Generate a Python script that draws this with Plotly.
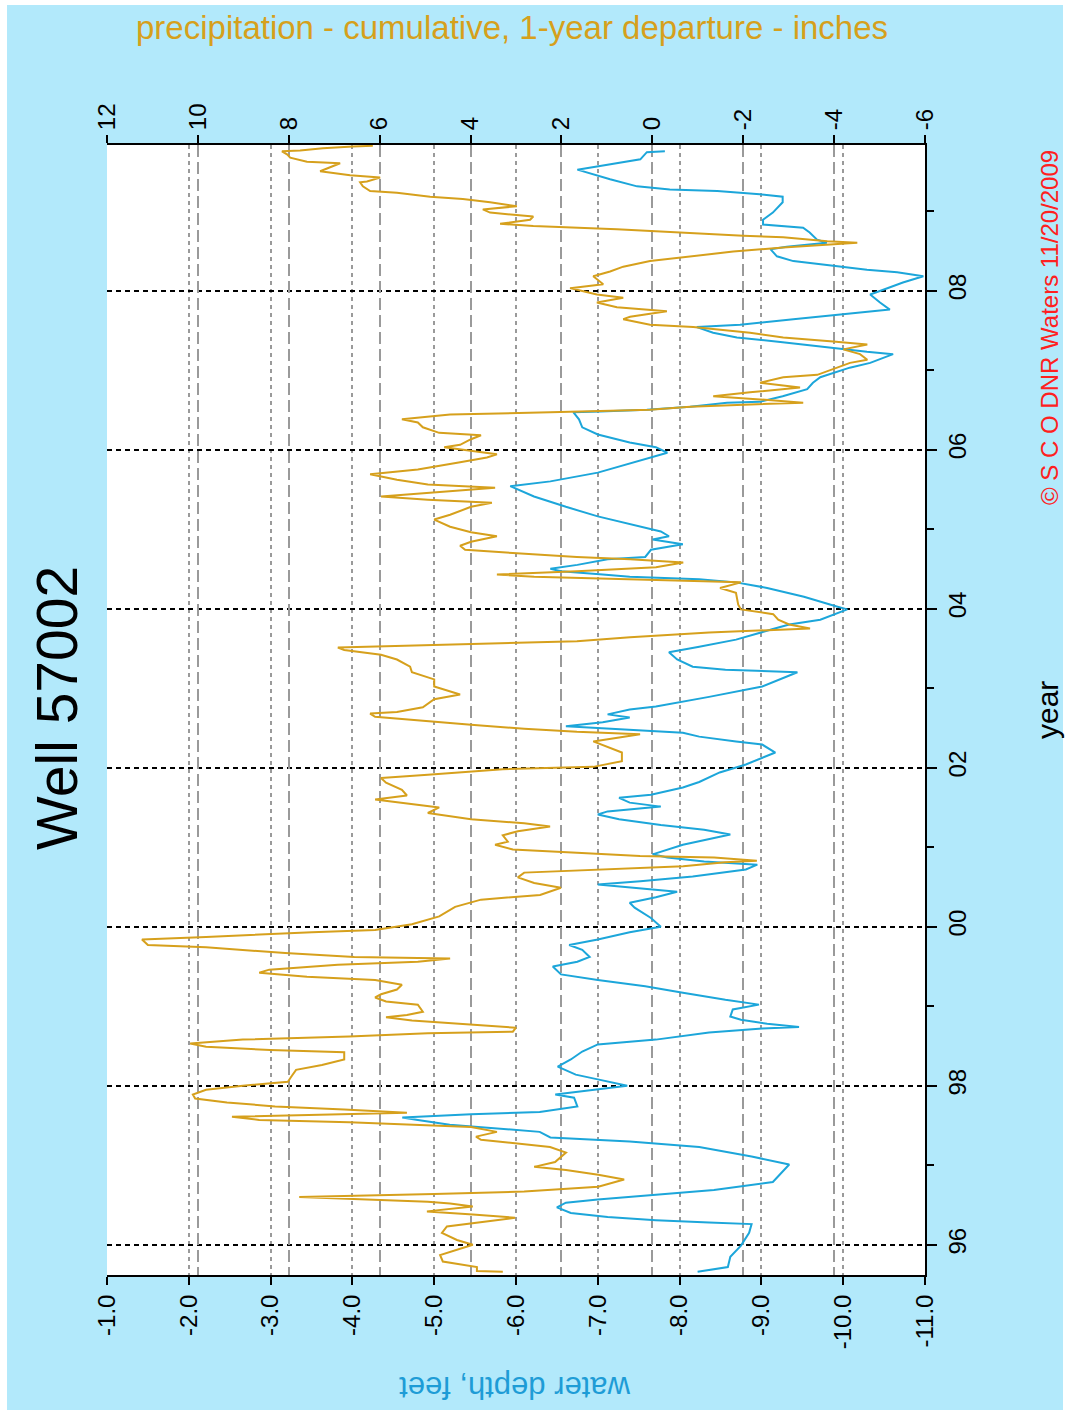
import plotly.graph_objects as go

# ---------------- data ----------------
depth_year = [1995.66, 1995.72, 1995.85, 1995.99, 1996.15, 1996.26, 1996.28, 1996.31, 1996.35, 1996.40,
              1996.47, 1996.53, 1996.57, 1996.63, 1996.69, 1996.79, 1997.01, 1997.11, 1997.23, 1997.30,
              1997.35, 1997.42, 1997.47, 1997.51, 1997.57, 1997.60, 1997.64, 1997.67, 1997.74, 1997.85,
              1997.89, 1997.95, 1998.00, 1998.08, 1998.14, 1998.24, 1998.33, 1998.43, 1998.52, 1998.58,
              1998.67, 1998.72, 1998.74, 1998.78, 1998.83, 1998.87, 1998.96, 1999.02, 1999.08, 1999.17,
              1999.25, 1999.33, 1999.40, 1999.50, 1999.56, 1999.62, 1999.71, 1999.77, 1999.84, 1999.93,
              2000.00, 2000.11, 2000.24, 2000.30, 2000.37, 2000.44, 2000.49, 2000.53, 2000.57, 2000.63,
              2000.72, 2000.78, 2000.82, 2000.87, 2000.91, 2001.03, 2001.16, 2001.22, 2001.28, 2001.35,
              2001.41, 2001.45, 2001.51, 2001.56, 2001.62, 2001.66, 2001.75, 2001.82, 2001.94, 2002.04,
              2002.19, 2002.29, 2002.33, 2002.39, 2002.44, 2002.48, 2002.52, 2002.57, 2002.63, 2002.67,
              2002.73, 2002.77, 2002.89, 2003.02, 2003.20, 2003.23, 2003.27, 2003.36, 2003.45, 2003.52,
              2003.61, 2003.74, 2003.80, 2003.86, 2003.99, 2004.03, 2004.15, 2004.26, 2004.33, 2004.37,
              2004.40, 2004.43, 2004.47, 2004.50, 2004.55, 2004.62, 2004.65, 2004.74, 2004.81, 2004.87,
              2004.91, 2004.97, 2005.03, 2005.16, 2005.28, 2005.41, 2005.54, 2005.60, 2005.71, 2005.84,
              2005.96, 2006.03, 2006.09, 2006.19, 2006.28, 2006.38, 2006.47, 2006.48, 2006.50, 2006.54,
              2006.59, 2006.60, 2006.67, 2006.76, 2006.84, 2006.91, 2007.03, 2007.09, 2007.20, 2007.23,
              2007.28, 2007.35, 2007.41, 2007.47, 2007.54, 2007.57, 2007.64, 2007.70, 2007.76, 2007.85,
              2007.95, 2008.01, 2008.10, 2008.18, 2008.23, 2008.26, 2008.33, 2008.37, 2008.43, 2008.52,
              2008.55, 2008.60, 2008.64, 2008.73, 2008.79, 2008.83, 2008.89, 2008.98, 2009.11, 2009.18,
              2009.21, 2009.25, 2009.27, 2009.31, 2009.40, 2009.46, 2009.52, 2009.56, 2009.61, 2009.65,
              2009.74, 2009.75]

water_depth_ft = [-8.22, -8.59, -8.62, -8.75, -8.85, -8.88, -8.36, -7.71, -7.12, -6.67,
                  -6.50, -6.61, -7.00, -7.71, -8.42, -9.14, -9.34, -8.88, -8.24, -7.39,
                  -6.42, -6.29, -5.71, -5.19, -4.80, -4.61, -5.45, -6.29, -6.75, -6.71,
                  -6.48, -7.00, -7.36, -7.00, -6.73, -6.51, -6.67, -6.81, -7.00, -7.71,
                  -8.36, -9.01, -9.46, -9.07, -8.75, -8.62, -8.65, -8.97, -8.56, -8.04,
                  -7.58, -7.00, -6.55, -6.45, -6.75, -6.90, -6.81, -6.65, -7.00, -7.39,
                  -7.77, -7.65, -7.45, -7.39, -7.71, -7.97, -7.39, -7.00, -7.52, -8.16,
                  -8.81, -8.95, -8.30, -7.85, -7.67, -8.04, -8.62, -8.30, -7.77, -7.26,
                  -7.00, -7.12, -7.77, -7.39, -7.26, -7.65, -8.04, -8.24, -8.49, -8.81,
                  -9.17, -9.01, -8.69, -8.24, -8.04, -7.39, -6.61, -7.06, -7.39, -7.12,
                  -7.39, -7.71, -8.36, -9.01, -9.44, -8.56, -8.16, -7.97, -7.87, -8.24,
                  -8.69, -9.13, -9.34, -9.72, -10.05, -9.91, -9.52, -9.07, -8.69, -8.24,
                  -7.39, -7.06, -6.55, -6.42, -6.75, -7.12, -7.58, -7.65, -8.04, -7.67,
                  -7.87, -7.77, -7.52, -7.00, -6.61, -6.22, -5.93, -6.42, -7.00, -7.45,
                  -7.85, -7.71, -7.39, -7.00, -6.81, -6.77, -6.70, -7.03, -7.60, -8.13,
                  -8.58, -8.98, -9.26, -9.56, -9.63, -9.72, -10.08, -10.33, -10.61, -10.29,
                  -9.88, -9.26, -8.70, -8.41, -8.21, -8.74, -9.39, -10.00, -10.57, -10.45,
                  -10.33, -10.49, -10.73, -10.98, -10.66, -10.29, -9.68, -9.39, -9.19, -9.11,
                  -9.31, -9.80, -9.68, -9.59, -9.51, -9.02, -9.02, -9.14, -9.26, -9.26,
                  -8.98, -8.46, -7.88, -7.48, -7.15, -6.94, -6.75, -6.99, -7.31, -7.52,
                  -7.60, -7.82]

precip_year = [1995.66, 1995.67, 1995.72, 1995.79, 1995.87, 1995.94, 1996.00, 1996.06, 1996.15, 1996.23,
               1996.28, 1996.34, 1996.38, 1996.42, 1996.48, 1996.52, 1996.54, 1996.58, 1996.60, 1996.64,
               1996.67, 1996.73, 1996.82, 1996.88, 1996.94, 1996.98, 1997.04, 1997.16, 1997.23, 1997.32,
               1997.36, 1997.42, 1997.48, 1997.54, 1997.57, 1997.61, 1997.64, 1997.66, 1997.70, 1997.74,
               1997.79, 1997.84, 1997.89, 1997.95, 1998.00, 1998.05, 1998.11, 1998.20, 1998.26, 1998.33,
               1998.42, 1998.45, 1998.49, 1998.53, 1998.58, 1998.62, 1998.66, 1998.68, 1998.73, 1998.78,
               1998.82, 1998.86, 1998.89, 1998.93, 1999.02, 1999.06, 1999.11, 1999.15, 1999.21, 1999.27,
               1999.33, 1999.37, 1999.42, 1999.46, 1999.52, 1999.56, 1999.60, 1999.62, 1999.67, 1999.74,
               1999.77, 1999.84, 1999.87, 1999.93, 1999.96, 2000.03, 2000.13, 2000.25, 2000.34, 2000.40,
               2000.49, 2000.55, 2000.62, 2000.68, 2000.72, 2000.76, 2000.81, 2000.83, 2000.87, 2000.89,
               2000.93, 2000.97, 2001.03, 2001.07, 2001.15, 2001.20, 2001.26, 2001.30, 2001.35, 2001.43,
               2001.50, 2001.54, 2001.60, 2001.65, 2001.72, 2001.81, 2001.87, 2001.91, 2001.98, 2002.01,
               2002.08, 2002.19, 2002.26, 2002.33, 2002.38, 2002.42, 2002.45, 2002.49, 2002.54, 2002.60,
               2002.64, 2002.68, 2002.70, 2002.76, 2002.86, 2002.92, 2002.96, 2003.02, 2003.11, 2003.20,
               2003.27, 2003.36, 2003.42, 2003.48, 2003.51, 2003.55, 2003.59, 2003.64, 2003.70, 2003.75,
               2003.80, 2003.86, 2003.93, 2003.99, 2004.05, 2004.20, 2004.26, 2004.33, 2004.34, 2004.37,
               2004.40, 2004.43, 2004.47, 2004.52, 2004.58, 2004.62, 2004.65, 2004.70, 2004.74, 2004.79,
               2004.84, 2004.91, 2004.96, 2005.03, 2005.12, 2005.18, 2005.28, 2005.33, 2005.37, 2005.41,
               2005.47, 2005.52, 2005.56, 2005.62, 2005.69, 2005.75, 2005.84, 2005.90, 2005.94, 2005.98,
               2006.03, 2006.06, 2006.13, 2006.18, 2006.21, 2006.28, 2006.34, 2006.38, 2006.44, 2006.47,
               2006.50, 2006.54, 2006.57, 2006.59, 2006.63, 2006.67, 2006.72, 2006.78, 2006.84, 2006.91,
               2006.94, 2007.01, 2007.09, 2007.13, 2007.20, 2007.26, 2007.32, 2007.36, 2007.41, 2007.47,
               2007.54, 2007.57, 2007.64, 2007.67, 2007.74, 2007.79, 2007.85, 2007.91, 2007.95, 2007.99,
               2008.03, 2008.08, 2008.14, 2008.18, 2008.24, 2008.30, 2008.37, 2008.43, 2008.49, 2008.54,
               2008.58, 2008.60, 2008.62, 2008.67, 2008.69, 2008.73, 2008.77, 2008.81, 2008.84, 2008.89,
               2008.93, 2008.98, 2009.02, 2009.06, 2009.11, 2009.15, 2009.18, 2009.23, 2009.25, 2009.31,
               2009.36, 2009.37, 2009.42, 2009.45, 2009.50, 2009.55, 2009.60, 2009.62, 2009.67, 2009.71,
               2009.75, 2009.76, 2009.79, 2009.81, 2009.82]

precip_departure_in = [3.29, 3.86, 3.86, 4.61, 4.67, 4.30, 3.95, 4.30, 4.63, 4.52,
                       3.79, 3.02, 3.95, 4.96, 3.95, 4.45, 4.94, 7.03, 7.77, 4.80,
                       2.82, 1.19, 0.62, 1.19, 1.90, 2.60, 2.14, 1.90, 2.25, 3.77,
                       3.88, 3.42, 3.99, 6.67, 8.65, 9.25, 7.27, 5.40, 6.78, 8.30,
                       9.36, 10.06, 10.11, 9.82, 9.01, 8.02, 7.95, 7.84, 7.27, 6.78,
                       6.78, 8.41, 9.82, 10.17, 9.01, 6.67, 4.94, 3.07, 3.00, 4.23,
                       5.29, 5.86, 5.40, 5.05, 5.16, 5.86, 6.10, 5.97, 5.62, 5.51,
                       6.10, 7.60, 8.65, 8.43, 6.92, 5.16, 4.45, 6.56, 8.08, 9.82,
                       11.10, 11.23, 9.82, 7.49, 6.10, 5.29, 4.69, 4.34, 3.77, 2.47,
                       2.01, 2.60, 2.96, 2.82, 1.08, -0.68, -1.60, -2.30, -1.36, 0.27,
                       1.66, 3.07, 3.46, 3.18, 3.29, 2.96, 2.25, 2.82, 3.99, 4.94,
                       4.69, 5.29, 6.10, 5.40, 5.51, 5.86, 5.97, 4.94, 3.29, 1.30,
                       0.67, 0.67, 0.97, 1.30, 0.73, 0.27, 1.66, 2.82, 3.99, 5.16,
                       6.10, 6.21, 5.62, 5.05, 4.80, 4.23, 4.45, 4.80, 4.80, 5.29,
                       5.33, 5.62, 5.97, 6.78, 6.92, 3.99, 1.66, 0.49, -1.25, -3.47,
                       -3.01, -2.77, -2.66, -1.95, -1.89, -1.84, -1.49, -1.95, -1.25, 0.49,
                       2.60, 3.42, 1.66, -0.08, -0.68, 0.49, 1.66, 3.07, 4.12, 4.23,
                       3.99, 3.42, 3.99, 4.45, 4.80, 4.45, 3.99, 3.53, 4.94, 5.97,
                       4.58, 3.46, 4.94, 5.62, 6.21, 5.16, 4.23, 3.64, 3.42, 3.99,
                       4.58, 4.23, 3.99, 3.77, 4.69, 5.05, 5.16, 5.51, 4.45, 2.25,
                       0.05, -0.83, -2.15, -3.32, -2.37, -1.34, -2.15, -3.25, -2.37, -2.88,
                       -3.63, -3.98, -4.35, -4.73, -4.57, -4.20, -4.73, -3.98, -2.88, -2.15,
                       -0.90, 0.05, 0.64, 0.49, -0.32, 0.78, 1.22, 0.64, 1.22, 1.52,
                       1.81, 1.08, 1.22, 1.30, 0.93, 0.64, 0.05, -0.90, -1.78, -2.88,
                       -3.98, -4.51, -3.85, -2.88, -2.00, -0.68, 0.78, 2.62, 3.35, 2.69,
                       2.62, 3.57, 3.73, 2.98, 3.57, 4.17, 4.89, 5.62, 6.21, 6.37,
                       6.43, 6.28, 5.99, 6.65, 7.31, 7.09, 6.87, 7.60, 7.97, 8.03,
                       8.15, 7.75, 7.25, 6.59, 6.15]

depth_ticks = [-1, -2, -3, -4, -5, -6, -7, -8, -9, -10, -11]
depth_tick_labels = ["-1.0", "-2.0", "-3.0", "-4.0", "-5.0", "-6.0", "-7.0", "-8.0", "-9.0", "-10.0", "-11.0"]
precip_ticks = [12, 10, 8, 6, 4, 2, 0, -2, -4, -6]
precip_tick_labels = ["12", "10", "8", "6", "4", "2", "0", "-2", "-4", "-6"]
year_ticks = [1996, 1998, 2000, 2002, 2004, 2006, 2008]
year_tick_labels = ["96", "98", "00", "02", "04", "06", "08"]
year_minor_ticks = [1997, 1999, 2001, 2003, 2005, 2007, 2009]

# ---------------- styling ----------------
BG = "#b2e9fb"
GOLD = "#d6a01c"
BLUE = "#1ca6da"
FONT = "Liberation Sans, Arial, sans-serif"

W, H = 1066, 1412
L, R, T, B = 107, 925, 145, 1275   # plot area in pixels

def px(xp):
    return (xp - L) / (R - L)

def py(yp):
    return (B - yp) / (B - T)

fig = go.Figure()
fig.add_trace(go.Scatter(x=water_depth_ft, y=depth_year, xaxis="x", yaxis="y",
                         mode="lines", line=dict(color=BLUE, width=2),
                         name="water depth", showlegend=False))
fig.add_trace(go.Scatter(x=precip_departure_in, y=precip_year, xaxis="x2", yaxis="y",
                         mode="lines", line=dict(color=GOLD, width=2),
                         name="precipitation", showlegend=False))

fig.update_layout(
    width=W, height=H,
    margin=dict(l=L, r=W - R, t=T, b=H - B, pad=0),
    paper_bgcolor=BG,
    plot_bgcolor="white",
    font=dict(family=FONT, color="black"),
    xaxis=dict(
        range=[-1, -11], tickmode="array", tickvals=depth_ticks, ticktext=depth_tick_labels,
        tickangle=-90, tickfont=dict(size=24, family=FONT, color="black"),
        side="bottom", anchor="y",
        showline=True, linecolor="black", linewidth=2, mirror=False,
        ticks="outside", ticklen=8, tickwidth=2, tickcolor="black",
        showgrid=True, gridcolor="#9a9a9a", gridwidth=1.5, griddash="4px,4px",
        zeroline=False,
    ),
    xaxis2=dict(
        range=[12, -6], tickmode="array", tickvals=precip_ticks, ticktext=precip_tick_labels,
        tickangle=-90, tickfont=dict(size=24, family=FONT, color="black"),
        side="top", overlaying="x", anchor="y",
        showline=True, linecolor="black", linewidth=2, mirror=False,
        ticks="outside", ticklen=8, tickwidth=2, tickcolor="black",
        showgrid=True, gridcolor="#9a9a9a", gridwidth=1.5, griddash="12px,5px",
        zeroline=False,
    ),
    yaxis=dict(
        range=[1995.62, 2009.83], tickmode="array", tickvals=year_ticks, ticktext=year_tick_labels,
        tickangle=-90, tickfont=dict(size=24, family=FONT, color="black"),
        side="right", anchor="x",
        showline=True, linecolor="black", linewidth=2, mirror=False,
        ticks="outside", ticklen=10, tickwidth=2, tickcolor="black",
        showgrid=True, gridcolor="black", gridwidth=2, griddash="5px,4px",
        zeroline=False,
        minor=dict(tickmode="array", tickvals=year_minor_ticks, ticks="outside",
                   ticklen=7, tickwidth=2, tickcolor="black", showgrid=False),
    ),
    annotations=[
        dict(text="Well 57002", x=px(57), y=py(708), xref="paper", yref="paper",
             textangle=-90, showarrow=False, xanchor="center", yanchor="middle",
             font=dict(size=57, family=FONT, color="black")),
        dict(text="precipitation - cumulative, 1-year departure - inches",
             x=px(512), y=py(27), xref="paper", yref="paper",
             showarrow=False, xanchor="center", yanchor="middle",
             font=dict(size=33, family=FONT, color=GOLD)),
        dict(text="water depth, feet", x=px(515), y=py(1388), xref="paper", yref="paper",
             textangle=180, showarrow=False, xanchor="center", yanchor="middle",
             font=dict(size=31, family=FONT, color="#1e9cd6")),
        dict(text="year", x=px(1047), y=py(710), xref="paper", yref="paper",
             textangle=-90, showarrow=False, xanchor="center", yanchor="middle",
             font=dict(size=30, family=FONT, color="black")),
        dict(text="© S C O DNR Waters 11/20/2009", x=px(1049), y=py(328),
             xref="paper", yref="paper", textangle=-90, showarrow=False,
             xanchor="center", yanchor="middle",
             font=dict(size=24, family=FONT, color="#ff2020")),
    ],
    shapes=[
        dict(type="rect", xref="paper", yref="paper", x0=px(0), x1=px(7), y0=py(H), y1=py(0),
             fillcolor="white", line=dict(width=0), layer="above"),
        dict(type="rect", xref="paper", yref="paper", x0=px(1063), x1=px(W), y0=py(H), y1=py(0),
             fillcolor="white", line=dict(width=0), layer="above"),
        dict(type="rect", xref="paper", yref="paper", x0=px(0), x1=px(W), y0=py(5), y1=py(0),
             fillcolor="white", line=dict(width=0), layer="above"),
        dict(type="rect", xref="paper", yref="paper", x0=px(0), x1=px(W), y0=py(H), y1=py(1410),
             fillcolor="white", line=dict(width=0), layer="above"),
    ],
)

fig.write_html("out.html")
